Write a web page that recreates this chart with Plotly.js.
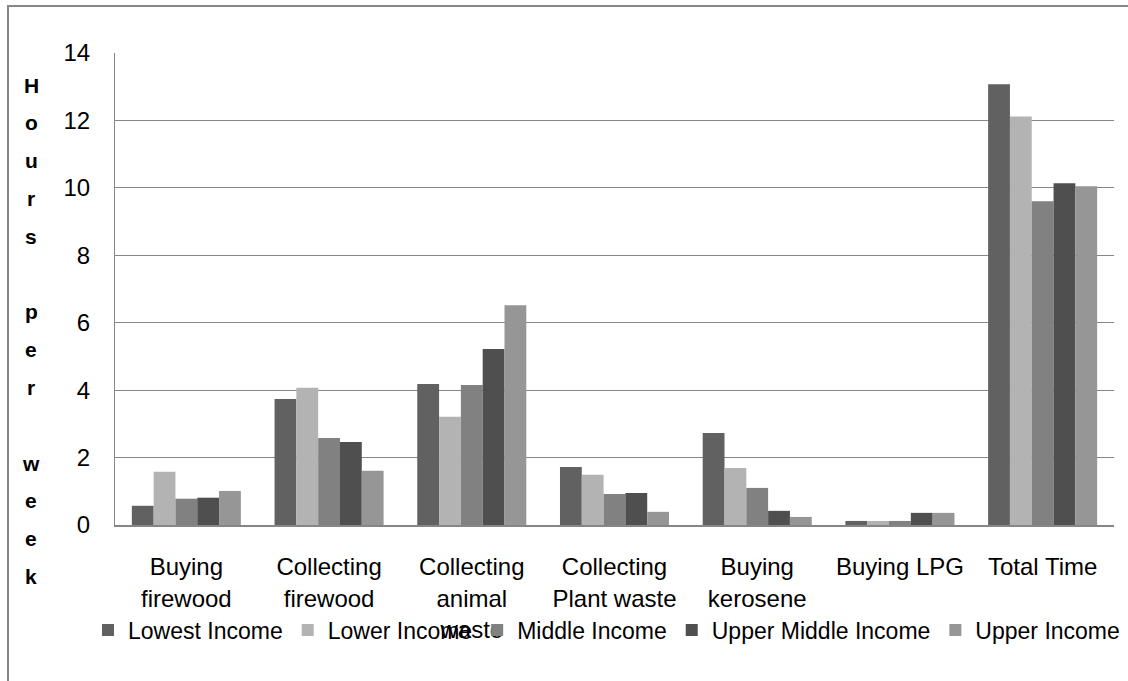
<!DOCTYPE html>
<html>
<head>
<meta charset="utf-8">
<script src="https://cdn.plot.ly/plotly-3.0.1.min.js"></script>
<style>
  html, body { margin: 0; padding: 0; background: #fff; }
  #wrap { position: relative; width: 1128px; height: 681px; overflow: hidden; }
  #chart { width: 1128px; height: 681px; }
  #frame { position: absolute; left: 7px; top: 5px; width: 1200px; height: 800px;
           border-top: 2px solid #878787; border-left: 2px solid #878787; pointer-events: none; }
</style>
</head>
<body>
<div id="wrap">
  <div id="chart"></div>
  <div id="frame"></div>
</div>
<script>
// ---- data ----
const categories = [
  "Buying<br>firewood",
  "Collecting<br>firewood",
  "Collecting<br>animal<br>waste",
  "Collecting<br>Plant waste",
  "Buying<br>kerosene",
  "Buying LPG",
  "Total Time"
];
const seriesNames = ["Lowest Income", "Lower Income", "Middle Income", "Upper Middle Income", "Upper Income"];
const lowestIncome      = [0.57, 3.74, 4.18, 1.72, 2.73, 0.12, 13.07];
const lowerIncome       = [1.58, 4.07, 3.21, 1.49, 1.69, 0.12, 12.12];
const middleIncome      = [0.78, 2.58, 4.15, 0.92, 1.10, 0.12, 9.60];
const upperMiddleIncome = [0.81, 2.46, 5.22, 0.95, 0.42, 0.36, 10.14];
const upperIncome       = [1.01, 1.61, 6.52, 0.39, 0.24, 0.36, 10.05];
const yTickValues = [0, 2, 4, 6, 8, 10, 12, 14];
const yTitle = "Hours per week";

// ---- styles ----
const colors = ["#616161", "#b3b3b3", "#818181", "#4f4f4f", "#969696"];
const seriesValues = [lowestIncome, lowerIncome, middleIncome, upperMiddleIncome, upperIncome];
const FONT = "'Liberation Sans', Arial, sans-serif";

const W = 1128, H = 681;
const M = { l: 115, r: 14, t: 53, b: 156 };
const plotW = W - M.l - M.r, plotH = H - M.t - M.b;
const px2x = px => (px - M.l) / plotW;
const px2y = py => (H - M.b - py) / plotH;

const traces = seriesNames.map((name, i) => ({
  type: "bar",
  name: name,
  x: categories,
  y: seriesValues[i],
  marker: { color: colors[i], line: { width: 0 } },
  hoverinfo: "x+y+name"
}));

// vertical stacked letters of the y title
const annotations = [];
const letters = yTitle.split("");
const letterTop = 85, letterStep = 37.8;
letters.forEach((ch, k) => {
  if (ch === " ") return;
  annotations.push({
    xref: "paper", yref: "paper",
    x: px2x(31), y: px2y(letterTop + k * letterStep),
    xanchor: "center", yanchor: "middle",
    text: ch, showarrow: false,
    font: { family: FONT, size: 21, color: "#000", weight: "bold" }
  });
});

const layout = {
  width: W, height: H,
  margin: M,
  paper_bgcolor: "#ffffff",
  plot_bgcolor: "#ffffff",
  barmode: "group",
  bargap: 0.236,
  bargroupgap: 0,
  showlegend: true,
  legend: {
    orientation: "h",
    xref: "paper", yref: "paper",
    x: px2x(88), xanchor: "left",
    y: px2y(630), yanchor: "middle",
    bgcolor: "rgba(0,0,0,0)",
    font: { family: FONT, size: 23, color: "#000" },
    traceorder: "normal",
    itemclick: false
  },
  xaxis: {
    type: "category",
    showgrid: false,
    showline: true, linecolor: "#868686", linewidth: 1.5,
    ticks: "",
    ticklabelstandoff: 20,
    tickfont: { family: FONT, size: 24, color: "#000" },
    fixedrange: true
  },
  yaxis: {
    range: [0, 14],
    tickvals: yTickValues,
    ticktext: yTickValues.map(String),
    showgrid: true, gridcolor: "#868686", gridwidth: 1,
    showline: true, linecolor: "#868686", linewidth: 1,
    zeroline: false,
    ticks: "",
    ticklabelstandoff: 19,
    tickfont: { family: FONT, size: 24, color: "#000" },
    fixedrange: true
  },
  annotations: annotations
};

Plotly.newPlot("chart", traces, layout, { displayModeBar: false, staticPlot: true });
</script>
</body>
</html>
